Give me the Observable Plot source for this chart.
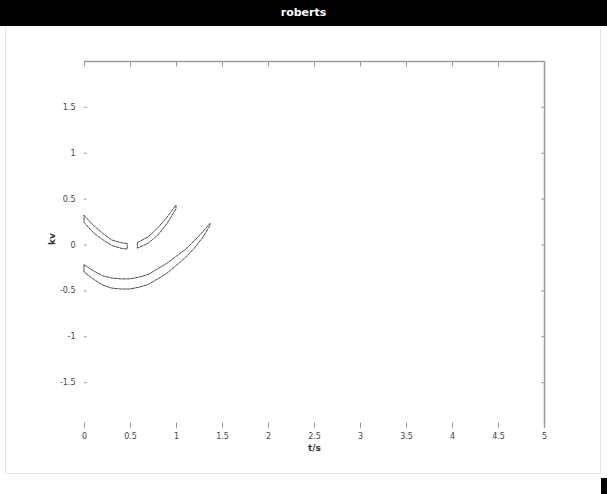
<!DOCTYPE html>
<html>
<head>
<meta charset="utf-8">
<script src="https://cdn.jsdelivr.net/npm/d3@7"></script>
<script src="https://cdn.jsdelivr.net/npm/@observablehq/plot@0.6"></script>
<style>
  html, body { margin: 0; padding: 0; background: #fff; width: 607px; height: 494px; overflow: hidden; }
  #title { height: 26px; background: #000; color: #fff; font: bold 11px "DejaVu Sans", sans-serif; text-align: center; line-height: 26px; }
  #frame { position: absolute; left: 5px; top: 27px; width: 594px; height: 446px; border: 1px solid #e4e4e4; border-top: none; pointer-events: none; }
  #corner { position: absolute; left: 601px; top: 478px; width: 6px; height: 16px; background: #000; }
  #chart { position: absolute; left: 0; top: 27px; }
</style>
</head>
<body>
<div id="title">roberts</div>
<div id="chart"></div>
<div id="frame"></div>
<div id="corner"></div>
<script>
// ---- data ----
const xTicks = [0, 0.5, 1, 1.5, 2, 2.5, 3, 3.5, 4, 4.5, 5];
const xTickLabels = ["0", "0.5", "1", "1.5", "2", "2.5", "3", "3.5", "4", "4.5", "5"];
const yTicks = [-1.5, -1, -0.5, 0, 0.5, 1, 1.5];
const yTickLabels = ["-1.5", "-1", "-0.5", "0", "0.5", "1", "1.5"];
const xLabel = "t/s";
const yLabel = "kv";

// upper arc (centre line and half thickness), with a gap near x≈0.52
const upperX    = [0,    0.1,  0.2,  0.3,  0.4,   0.47,  0.52, 0.58,  0.7,  0.8,  0.9,  1.0];
const upperY    = [0.28, 0.17, 0.09, 0.02, -0.01, -0.02, NaN,  -0.01, 0.05, 0.14, 0.26, 0.41];
const upperHalf = [0.04, 0.04, 0.035,0.03, 0.03,  0.03,  0,    0.03,  0.035,0.04, 0.035,0.02];

// lower arc
const lowerX    = [0,     0.1,   0.2,   0.3,   0.4,   0.5,   0.6,   0.7,   0.8,   0.9,   1.0,   1.1,   1.2,  1.3,  1.37];
const lowerY    = [-0.26, -0.33, -0.39, -0.42, -0.43, -0.43, -0.41, -0.38, -0.32, -0.26, -0.18, -0.10, 0.0,  0.12, 0.22];
const lowerHalf = [0.04,  0.045, 0.05,  0.055, 0.055, 0.055, 0.055, 0.055, 0.055, 0.055, 0.05,  0.045, 0.04, 0.03, 0.01];

// ---- build tables ----
const band = (xs, ys, hs, name) => xs.map((x, i) => ({
  arc: name, x,
  top: Number.isNaN(ys[i]) ? NaN : ys[i] + hs[i],
  bot: Number.isNaN(ys[i]) ? NaN : ys[i] - hs[i]
}));
const upper = band(upperX, upperY, upperHalf, "upper");
const lower = band(lowerX, lowerY, lowerHalf, "lower");

const xDom = [0, 5], yDom = [-2, 2];
const tl = 0.03; // inward tick length (data units)

const chart = Plot.plot({
  width: 607,
  height: 467,
  marginLeft: 84,
  marginRight: 63,
  marginTop: 34,
  marginBottom: 66,
  x: { domain: xDom },
  y: { domain: yDom },
  style: { fontFamily: "DejaVu Sans, sans-serif", fontSize: "8px", color: "#444", background: "transparent" },
  marks: [
    // box lines (top and right)
    Plot.ruleY([yDom[1]], { stroke: "#9a9a9a", strokeWidth: 1.5 }),
    Plot.ruleX([xDom[1]], { stroke: "#9a9a9a", strokeWidth: 1.5 }),
    // inward ticks
    Plot.ruleX(xTicks, { x: d => d, y1: yDom[1], y2: yDom[1] - 2 * tl, stroke: "#999" }),
    Plot.ruleX(xTicks, { x: d => d, y1: yDom[0], y2: yDom[0] + 2 * tl, stroke: "#999" }),
    Plot.ruleY(yTicks, { y: d => d, x1: xDom[0], x2: xDom[0] + tl, stroke: "#999" }),
    Plot.ruleY(yTicks, { y: d => d, x1: xDom[1], x2: xDom[1] - tl, stroke: "#999" }),
    // arcs
    Plot.areaY(upper, { x: "x", y1: "bot", y2: "top", fill: "white", stroke: "#333", strokeWidth: 0.9, strokeDasharray: "3,1.2" }),
    Plot.areaY(lower, { x: "x", y1: "bot", y2: "top", fill: "white", stroke: "#333", strokeWidth: 0.9, strokeDasharray: "3,1.2" }),
    // axes labels
    Plot.axisX({ ticks: xTicks, tickFormat: (d, i) => xTickLabels[i], tickSize: 0, tickPadding: 5, label: null }),
    Plot.axisY({ ticks: yTicks, tickFormat: (d, i) => yTickLabels[i], tickSize: 0, tickPadding: 9, label: null }),
    Plot.text([xLabel], { frameAnchor: "bottom", dy: 22, fontWeight: "bold", fontSize: 9, fill: "#333" }),
    Plot.text([yLabel], { frameAnchor: "left", dx: -32, rotate: -90, fontWeight: "bold", fontSize: 9, fill: "#333" })
  ]
});
document.getElementById("chart").appendChild(chart);
</script>
</body>
</html>
